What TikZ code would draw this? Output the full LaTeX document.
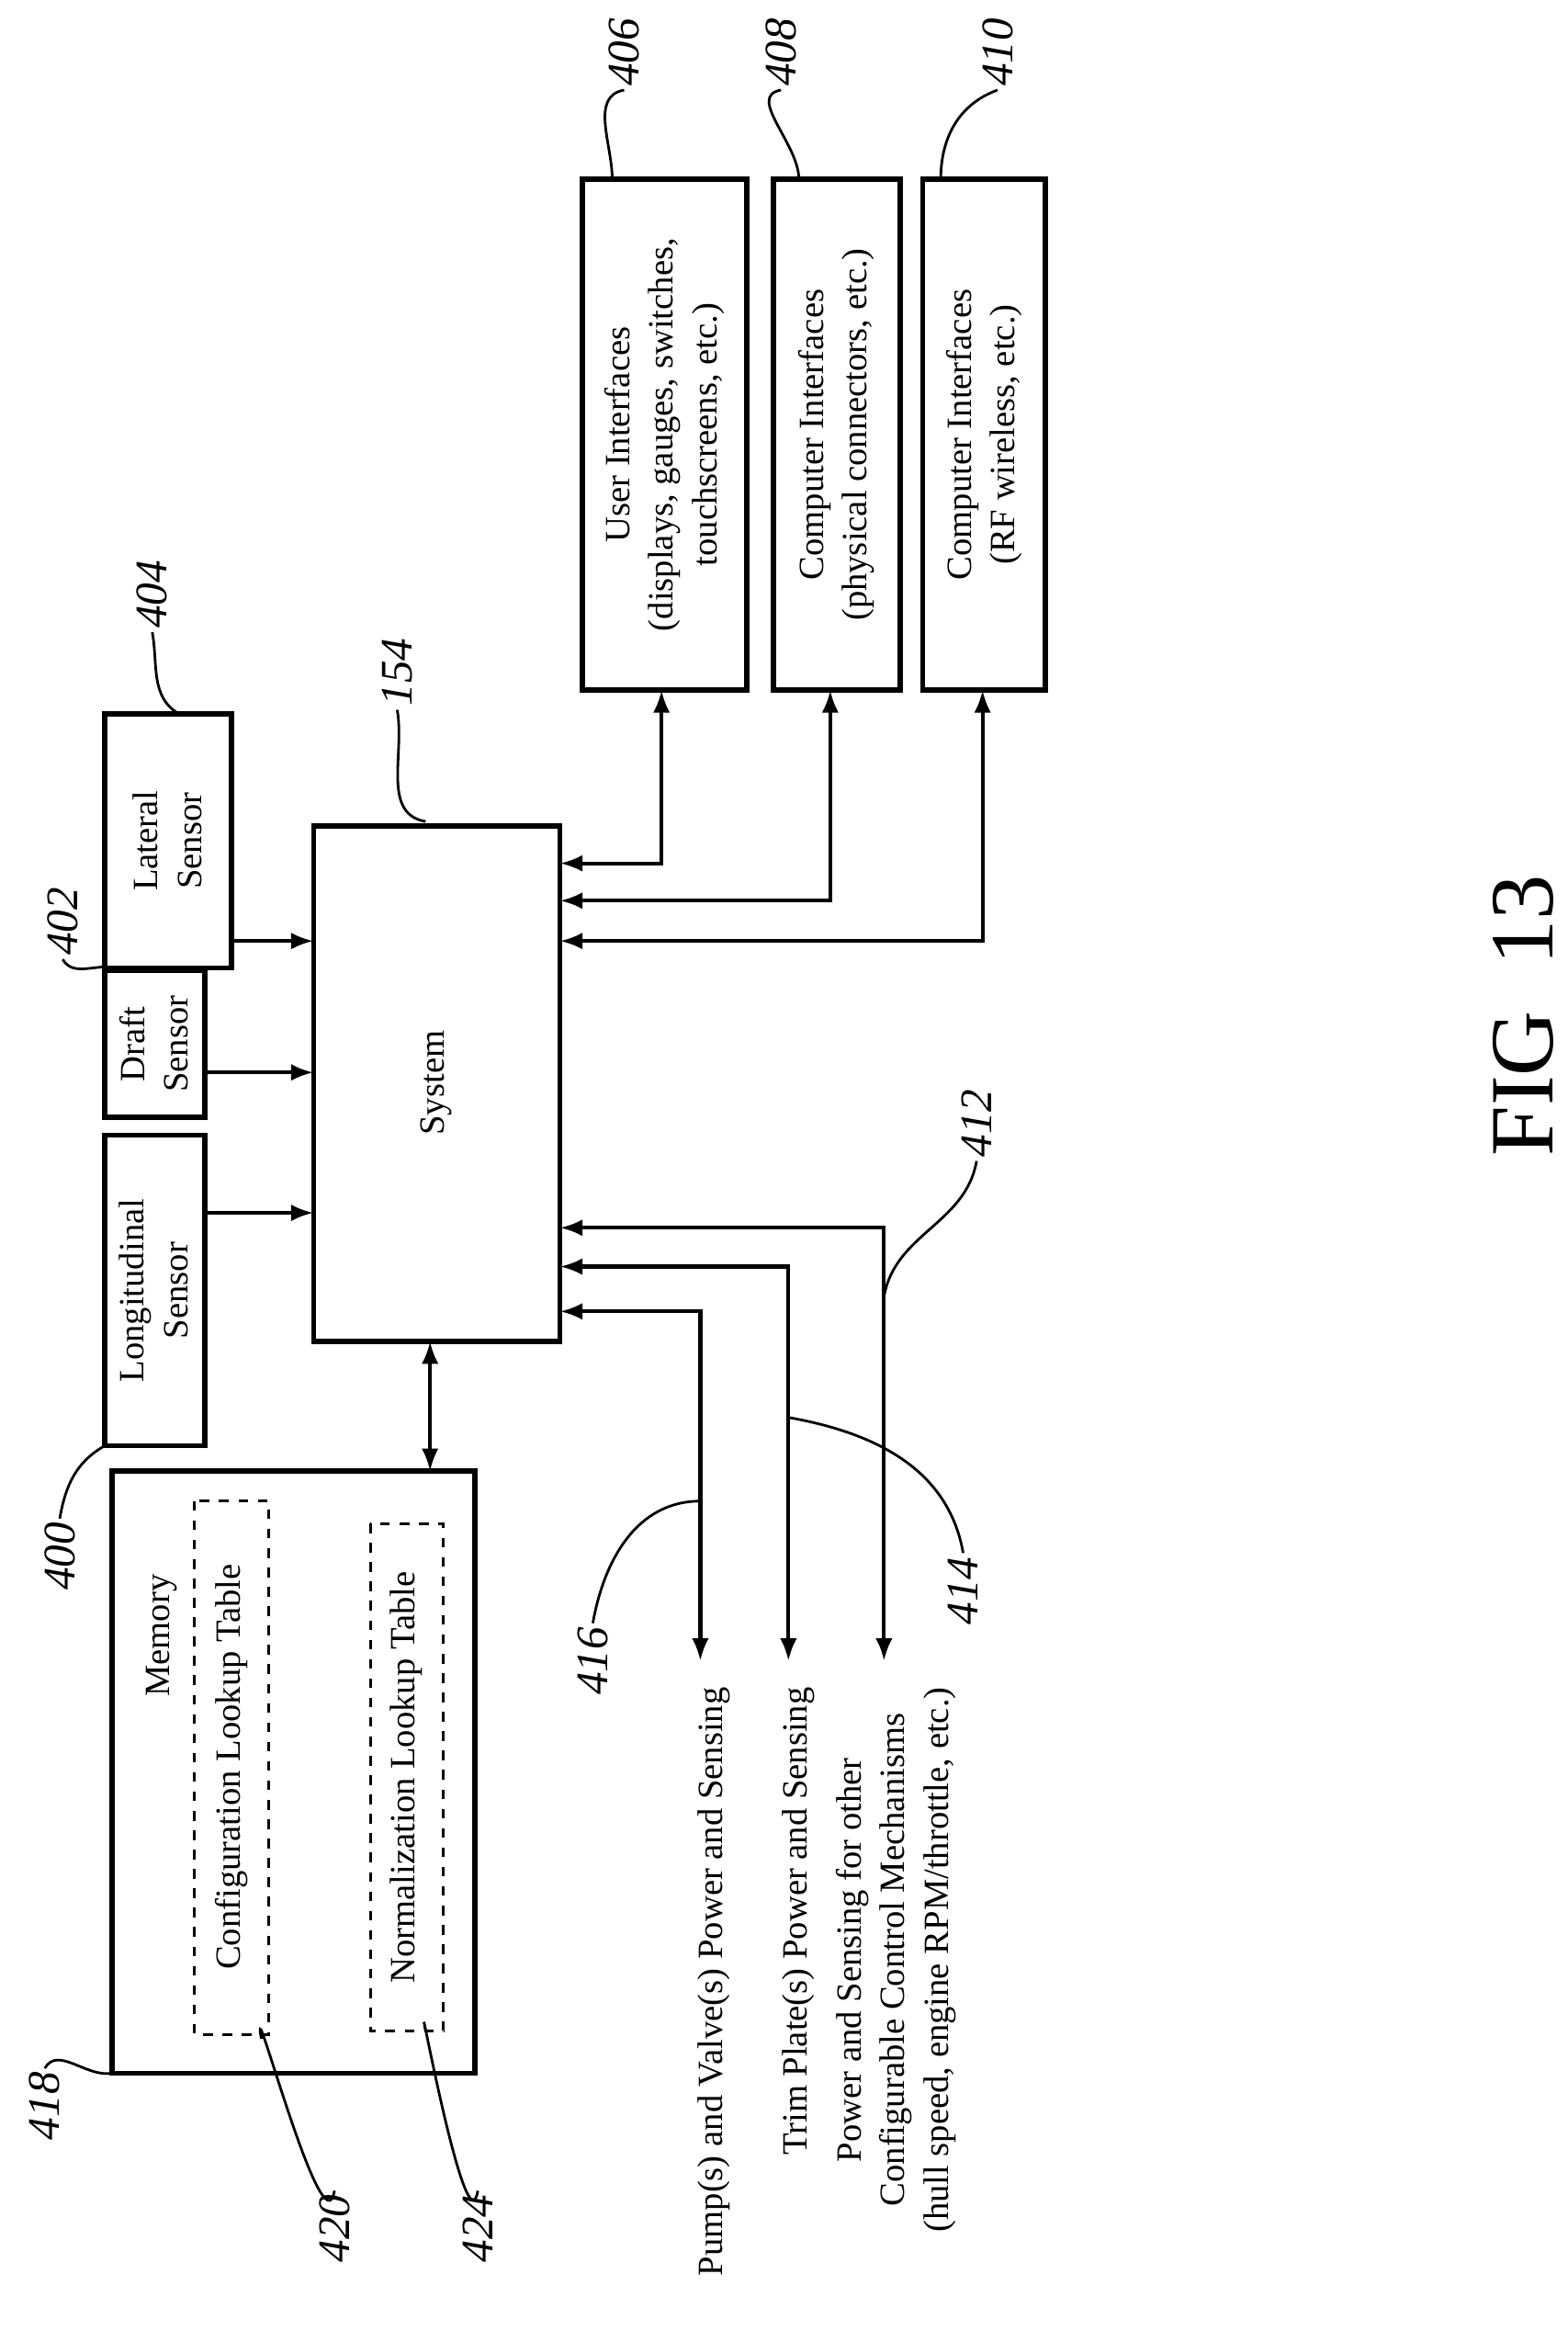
\documentclass[tikz,border=0pt]{standalone}
\usepackage{fontspec}
\setmainfont{Liberation Serif}
\usetikzlibrary{arrows.meta}
\begin{document}
\begin{tikzpicture}[x=0.01626cm,y=-0.01626cm,
 box/.style={draw,line width=1.6pt},
 dbox/.style={draw,dashed,line width=0.8pt},
 txt/.style={rotate=90,align=center,font=\fontsize{11}{13.5}\selectfont},
 num/.style={rotate=90,inner sep=1pt,font=\fontsize{14}{16}\selectfont\itshape},
 conn/.style={line width=1.2pt,{Latex[length=7pt]}-{Latex[length=7pt]}},
 one/.style={line width=1.2pt,-{Latex[length=7pt]}},
 lead/.style={line width=0.8pt}]
\useasboundingbox (0,0) rectangle (1050,1568);
% boxes
\draw[box] (75,985) rectangle (318,1388); \coordinate (mem) at (288,985);
\node[txt] (memt) at (108,1095) {Memory};
\draw[dbox] (130,1005) rectangle (180,1362);
\node[txt] (cfg) at (155,1183) {Configuration Lookup Table};
\draw[dbox] (248,1020) rectangle (297,1360);
\node[txt] (nrm) at (272,1190) {Normalization Lookup Table};
\draw[box] (70,760) rectangle (137,968);
\node[txt] (lon) at (103,864) {Longitudinal\\Sensor};
\draw[box] (70,650) rectangle (137,748);
\node[txt] (dra) at (103,699) {Draft\\Sensor};
\draw[box] (70,478) rectangle (155,648);
\node[txt] (lat) at (112,563) {Lateral\\Sensor};
\draw[box] (210,553) rectangle (375,898);
\node[txt] (sys) at (292,725) {System};
\draw[box] (390,120) rectangle (500,462);
\node[txt] (ui) at (445,291) {User Interfaces\\(displays, gauges, switches,\\touchscreens, etc.)};
\draw[box] (518,120) rectangle (603,462);
\node[txt] (ci1) at (560,291) {Computer Interfaces\\(physical connectors, etc.)};
\draw[box] (618,120) rectangle (700,462);
\node[txt] (ci2) at (659,291) {Computer Interfaces\\(RF wireless, etc.)};
% connectors
\draw[one] (155,630) -- (210,630);
\draw[one] (137,718) -- (210,718);
\draw[one] (137,812) -- (210,812);
\draw[conn] (288,898) -- (mem);
\draw[conn] (375,578) -| (443,462);
\draw[conn] (375,603) -| (556,462);
\draw[conn] (375,630) -| (658,462);
\coordinate (e1) at (469,1112); \coordinate (e2) at (528,1112); \coordinate (e3) at (592,1112);
\draw[conn] (375,878) -| (e1);
\draw[conn] (375,848) -| (e2);
\draw[conn] (375,822) -| (e3);
% bottom labels
\node[txt,anchor=east] (l1) at (478,1122) {Pump(s) and Valve(s) Power and Sensing};
\node[txt,anchor=east] (l2) at (535,1122) {Trim Plate(s) Power and Sensing};
\node[txt,anchor=east] (l3) at (600,1122) {Power and Sensing for other\\Configurable Control Mechanisms\\(hull speed, engine RPM/throttle, etc.)};
% reference numerals
\node[num] (n154) at (266,450) {154};
\draw[lead] (n154.west) to[out=-80,in=170] (285,550);
\node[num] (n404) at (102,398) {404};
\draw[lead] (n404.west) to[out=-80,in=150] (120,478);
\node[num] (n402) at (42,617) {402};
\draw[lead] (n402.west) to[out=-60,in=150] (82,650);
\node[num] (n400) at (40,1042) {400};
\draw[lead] (n400.east) to[out=80,in=-150] (70,968);
\node[num] (n418) at (30,1410) {418};
\draw[lead] (n418.east) to[out=60,in=190] (75,1388);
\node[num] (n420) at (224,1492) {420};
\draw[lead] (n420.east) to[out=-100,in=100] (175,1365);
\node[num] (n424) at (320,1492) {424};
\draw[lead] (n424.east) to[out=-100,in=100] (285,1360);
\node[num] (n416) at (397,1112) {416};
\draw[lead] (n416.east) to[out=80,in=180] (469,1005);
\node[num] (n414) at (645,1065) {414};
\draw[lead] (n414.east) to[out=100,in=-10] (528,949);
\node[num] (n412) at (654,752) {412};
\draw[lead] (n412.west) to[out=-100,in=80] (592,868);
\node[num] (n406) at (418,35) {406};
\draw[lead] (n406.west) to[out=-170,in=90] (410,120);
\node[num] (n408) at (523,35) {408};
\draw[lead] (n408.west) to[out=-170,in=90] (535,120);
\node[num] (n410) at (668,35) {410};
\draw[lead] (n410.west) to[out=-160,in=90] (630,120);
\node[rotate=90,font=\fontsize{28}{30}\selectfont] (fig) at (1020,680) {FIG\ \ 13};
\end{tikzpicture}
\end{document}
